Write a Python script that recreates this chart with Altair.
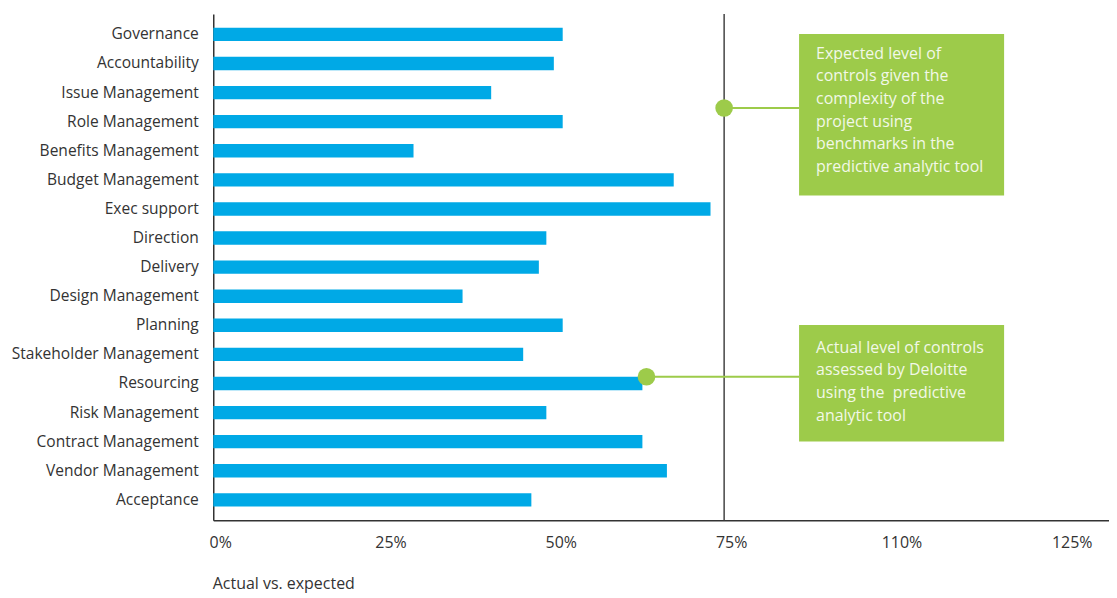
import altair as alt
import pandas as pd

categories = ["Governance", "Accountability", "Issue Management", "Role Management",
              "Benefits Management", "Budget Management", "Exec support", "Direction",
              "Delivery", "Design Management", "Planning", "Stakeholder Management",
              "Resourcing", "Risk Management", "Contract Management", "Vendor Management",
              "Acceptance"]
values = [51.3, 50.0, 40.8, 51.3, 29.4, 67.6, 73.0, 48.9, 47.8, 36.6, 51.3, 45.5,
          63.0, 48.9, 63.0, 66.6, 46.7]

tick_values = [0, 25, 50, 75, 100, 125]
tick_labels = ["0%", "25%", "50%", "75%", "110%", "125%"]

expected_level = 75
marker_rows = ["Role Management", "Resourcing"]
marker_x = [75, 63.6]
marker_dy = [-7, 0]
box_x = [86.0, 86.0]
box_x2 = [116.1, 116.1]
box_text = [
    ["Expected level of", "controls given the", "complexity of the", "project using",
     "benchmarks in the", "predictive analytic tool"],
    ["Actual level of controls", "assessed by Deloitte", "using the\u00a0 predictive",
     "analytic tool"],
]
box_top = [20, 312]
box_bottom = [182, 429]
text_top = [32, 327]

BLUE = "#00A9E6"
GREEN = "#9DCB4A"
FONT = "Open Sans"

df = pd.DataFrame({"cat": categories, "val": values})

label_expr = "{" + ",".join(f"'{v}':'{l}'" for v, l in zip(tick_values, tick_labels)) + "}[datum.value]"

xscale = alt.Scale(domain=[0, 131.5], nice=False, zero=True)
yscale = alt.Scale(domain=categories, paddingInner=0.54, paddingOuter=0.47)

bars = alt.Chart(df).mark_bar(color=BLUE).encode(
    x=alt.X("val:Q", scale=xscale,
            axis=alt.Axis(values=tick_values, labelExpr=label_expr, grid=False, ticks=False,
                          domainColor="#333333", domainWidth=1.5, labelFontSize=16,
                          labelColor="#333333", labelFont=FONT, labelPadding=14, labelOffset=7,
                          labelFlush=False,
                          title="Actual vs. expected", titleFont=FONT, titleFontSize=16,
                          titleFontWeight="normal", titleColor="#333333",
                          titleAnchor="start", titleAlign="left", titleX=-1, titleY=64,
                          titleBaseline="middle")),
    y=alt.Y("cat:N", scale=yscale, sort=categories,
            axis=alt.Axis(title=None, ticks=False, grid=False, domainColor="#333333",
                          domainWidth=1.5, labelFontSize=15.6, labelColor="#333333",
                          labelFont=FONT, labelPadding=15, labelLimit=400)),
)

vline = alt.Chart(pd.DataFrame({"x": [expected_level]})).mark_rule(
    color="#444444", strokeWidth=1.5).encode(x=alt.X("x:Q", scale=xscale))

ann = pd.DataFrame({"cat": marker_rows, "x": marker_x, "x2": box_x, "dy": marker_dy})

connectors = []
circles = []
for i in range(len(marker_rows)):
    d = ann.iloc[[i]]
    connectors.append(alt.Chart(d).mark_rule(color=GREEN, strokeWidth=2).encode(
        x=alt.X("x:Q", scale=xscale), x2="x2:Q",
        y=alt.Y("cat:N", scale=yscale, sort=categories),
        yOffset=alt.value(int(marker_dy[i]))))
    circles.append(alt.Chart(d).mark_point(filled=True, shape="circle", size=314,
                                            color=GREEN, opacity=1).encode(
        x=alt.X("x:Q", scale=xscale),
        y=alt.Y("cat:N", scale=yscale, sort=categories),
        yOffset=alt.value(int(marker_dy[i]))))

boxes = []
texts = []
for i in range(len(box_x)):
    bd = pd.DataFrame({"x": [box_x[i]], "x2": [box_x2[i]]})
    boxes.append(alt.Chart(bd).mark_rect(color=GREEN).encode(
        x=alt.X("x:Q", scale=xscale), x2="x2:Q",
        y=alt.value(box_top[i]), y2=alt.value(box_bottom[i])))
    texts.append(alt.Chart(pd.DataFrame({"x": [88.5], "t": [box_text[i]]})).mark_text(
        align="left", baseline="top", font=FONT, fontSize=16, lineHeight=22.7,
        color="#F2F8E8").encode(
        x=alt.X("x:Q", scale=xscale), y=alt.value(text_top[i]), text="t"))

chart = alt.layer(bars, vline, *connectors, *circles, *boxes, *texts).properties(
    width=899, height=508,
    autosize=alt.AutoSizeParams(type="none"),
    padding={"left": 206, "top": 5, "right": 0, "bottom": 76},
).configure_view(stroke=None)

chart.save("out.html", embed_options={"renderer": "svg", "actions": False})
